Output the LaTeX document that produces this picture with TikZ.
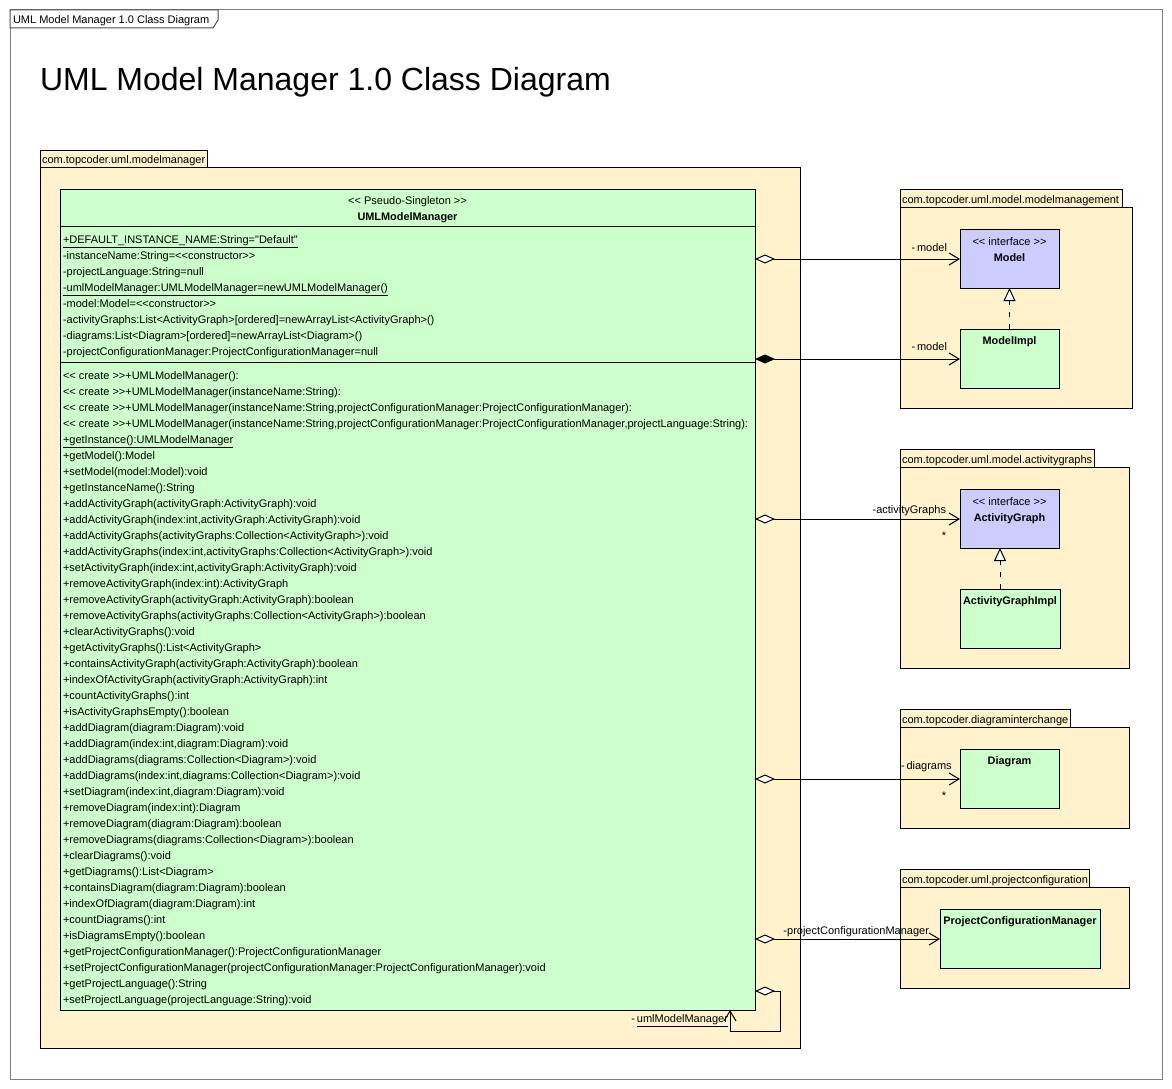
\documentclass[tikz,border=0pt]{standalone}
\usepackage{fontspec}
\setmainfont{Liberation Sans}[Ligatures=TeXOff]
\usetikzlibrary{arrows.meta}
\definecolor{pkg}{HTML}{FFF2CC}
\definecolor{cls}{HTML}{CCFFCC}
\definecolor{ifc}{HTML}{CCCCFF}
\definecolor{frm}{HTML}{808080}
\begin{document}
\begin{tikzpicture}[x=1pt,y=-1pt,line width=1pt,
  every node/.style={inner sep=0pt,outer sep=0pt},
  txt/.style={font=\fontsize{11}{13}\selectfont,text height=8pt,text depth=2.4pt,yshift=-1.8pt},
  bold/.style={txt,font=\fontsize{10.9}{13}\selectfont\bfseries},
  member/.style={txt,anchor=west},
  box/.style={draw,anchor=north west},
  pkgbox/.style={box,fill=pkg},
  clsbox/.style={box,fill=cls},
  ifcbox/.style={box,fill=ifc},
  aggr/.style={{Diamond[fill=white,length=20pt,width=9pt]}-{Straight Barb[length=10pt,width=12pt]}},
  comp/.style={{Diamond[length=20pt,width=9pt]}-{Straight Barb[length=10pt,width=12pt]}},
  real/.style={dash pattern=on 5pt off 7pt,-{Triangle[fill=white,length=13pt,width=12pt]}},
]
\useasboundingbox (0,0) rectangle (1172,1089);
\fill[white] (0,0) rectangle (1172,1089);

% outer frame
\node[box,draw=frm,minimum width=1152pt,minimum height=1069pt] (frame) at (10,10) {};
\draw[fill=white,draw=frm!60!black] (10,10) -- (218,10) -- (218,20) -- (213,28) -- (10,28) -- cycle;
\node[txt,anchor=west] (framelabel) at (13,19) {UML Model Manager 1.0 Class Diagram};
\node[anchor=west,font=\fontsize{32}{36}\selectfont] (title) at (40,82.5) {UML Model Manager 1.0 Class Diagram};

% main package
\node[pkgbox,minimum width=167pt,minimum height=17pt] (p1tab) at (40,150) {};
\node[pkgbox,minimum width=760pt,minimum height=881pt] (p1) at (40,167) {};
\node[member] (p1label) at (42,158.5) {com.topcoder.uml.modelmanager};

% main class
\node[clsbox,minimum width=695pt,minimum height=821pt] (umm) at (60,189) {};
\draw (60,226) -- (755,226);
\draw (60,362) -- (755,362);
\node[txt] (ummst) at (407.5,200) {<< Pseudo-Singleton >>};
\node[bold] (ummname) at (407.5,216) {UMLModelManager};

\foreach \t [count=\i] in {%
 {\underline{+DEFAULT\_INSTANCE\_NAME:String="Default"}},
 {-instanceName:String=<<constructor>>},
 {-projectLanguage:String=null},
 {\underline{-umlModelManager:UMLModelManager=newUMLModelManager()}},
 {-model:Model=<<constructor>>},
 {-activityGraphs:List<ActivityGraph>[ordered]=newArrayList<ActivityGraph>()},
 {-diagrams:List<Diagram>[ordered]=newArrayList<Diagram>()},
 {-projectConfigurationManager:ProjectConfigurationManager=null}}
 \node[member] (at\i) at (63,{223+16*\i}) {\t};

\foreach \t [count=\i] in {%
 {<< create >>+UMLModelManager():},
 {<< create >>+UMLModelManager(instanceName:String):},
 {<< create >>+UMLModelManager(instanceName:String,projectConfigurationManager:ProjectConfigurationManager):},
 {<< create >>+UMLModelManager(instanceName:String,projectConfigurationManager:ProjectConfigurationManager,projectLanguage:String):},
 {\underline{+getInstance():UMLModelManager}},
 {+getModel():Model},
 {+setModel(model:Model):void},
 {+getInstanceName():String},
 {+addActivityGraph(activityGraph:ActivityGraph):void},
 {+addActivityGraph(index:int,activityGraph:ActivityGraph):void},
 {+addActivityGraphs(activityGraphs:Collection<ActivityGraph>):void},
 {+addActivityGraphs(index:int,activityGraphs:Collection<ActivityGraph>):void},
 {+setActivityGraph(index:int,activityGraph:ActivityGraph):void},
 {+removeActivityGraph(index:int):ActivityGraph},
 {+removeActivityGraph(activityGraph:ActivityGraph):boolean},
 {+removeActivityGraphs(activityGraphs:Collection<ActivityGraph>):boolean},
 {+clearActivityGraphs():void},
 {+getActivityGraphs():List<ActivityGraph>},
 {+containsActivityGraph(activityGraph:ActivityGraph):boolean},
 {+indexOfActivityGraph(activityGraph:ActivityGraph):int},
 {+countActivityGraphs():int},
 {+isActivityGraphsEmpty():boolean},
 {+addDiagram(diagram:Diagram):void},
 {+addDiagram(index:int,diagram:Diagram):void},
 {+addDiagrams(diagrams:Collection<Diagram>):void},
 {+addDiagrams(index:int,diagrams:Collection<Diagram>):void},
 {+setDiagram(index:int,diagram:Diagram):void},
 {+removeDiagram(index:int):Diagram},
 {+removeDiagram(diagram:Diagram):boolean},
 {+removeDiagrams(diagrams:Collection<Diagram>):boolean},
 {+clearDiagrams():void},
 {+getDiagrams():List<Diagram>},
 {+containsDiagram(diagram:Diagram):boolean},
 {+indexOfDiagram(diagram:Diagram):int},
 {+countDiagrams():int},
 {+isDiagramsEmpty():boolean},
 {+getProjectConfigurationManager():ProjectConfigurationManager},
 {+setProjectConfigurationManager(projectConfigurationManager:ProjectConfigurationManager):void},
 {+getProjectLanguage():String},
 {+setProjectLanguage(projectLanguage:String):void}}
 \node[member] (op\i) at (63,{359+16*\i}) {\t};

% package modelmanagement
\node[pkgbox,minimum width=222pt,minimum height=18pt] (p2tab) at (900,189) {};
\node[pkgbox,minimum width=232pt,minimum height=201pt] (p2) at (900,207) {};
\node[member] (p2label) at (902,198.5) {com.topcoder.uml.model.modelmanagement};
\node[ifcbox,minimum width=99pt,minimum height=59pt] (model) at (960,229) {};
\node[txt] (modelst) at (1009.5,241) {<< interface >>};
\node[bold] (modelname) at (1009.5,257) {Model};
\node[clsbox,minimum width=99pt,minimum height=59pt] (modelimpl) at (960,329) {};
\node[bold] (modelimplname) at (1009.5,340) {ModelImpl};
\draw[real] (modelimpl.north) -- (model.south);

% package activitygraphs
\node[pkgbox,minimum width=194pt,minimum height=18pt] (p3tab) at (900,449) {};
\node[pkgbox,minimum width=229pt,minimum height=201pt] (p3) at (900,467) {};
\node[member] (p3label) at (902,458.5) {com.topcoder.uml.model.activitygraphs};
\node[ifcbox,minimum width=99pt,minimum height=59pt] (actg) at (960,489) {};
\node[txt] (actgst) at (1009.5,501) {<< interface >>};
\node[bold] (actgname) at (1009.5,517) {ActivityGraph};
\node[clsbox,minimum width=100pt,minimum height=59pt] (actgimpl) at (960,589) {};
\node[bold] (actgimplname) at (1010,600) {ActivityGraphImpl};
\coordinate (r2b) at (1000,589);
\coordinate (r2t) at (1000,548);
\draw[real] (r2b) -- (r2t);

% package diagraminterchange
\node[pkgbox,minimum width=170pt,minimum height=18pt] (p4tab) at (900,709) {};
\node[pkgbox,minimum width=229pt,minimum height=101pt] (p4) at (900,727) {};
\node[member] (p4label) at (902,718.5) {com.topcoder.diagraminterchange};
\node[clsbox,minimum width=99pt,minimum height=59pt] (diag) at (960,749) {};
\node[bold] (diagname) at (1009.5,760) {Diagram};

% package projectconfiguration
\node[pkgbox,minimum width=189pt,minimum height=18pt] (p5tab) at (900,869) {};
\node[pkgbox,minimum width=229pt,minimum height=101pt] (p5) at (900,887) {};
\node[member] (p5label) at (902,878.5) {com.topcoder.uml.projectconfiguration};
\node[clsbox,minimum width=160pt,minimum height=59pt] (pcm) at (940,909) {};
\node[bold] (pcmname) at (1020,920) {ProjectConfigurationManager};

% associations
\coordinate (s1) at (755,259);
\draw[aggr] (s1) -- (s1 -| model.west);
\coordinate (s2) at (755,359);
\draw[comp] (s2) -- (s2 -| modelimpl.west);
\coordinate (s3) at (755,519);
\draw[aggr] (s3) -- (s3 -| actg.west);
\coordinate (s4) at (755,779);
\draw[aggr] (s4) -- (s4 -| diag.west);
\coordinate (s5) at (755,939);
\draw[aggr] (s5) -- (s5 -| pcm.west);
\coordinate (s6) at (755,991);
\coordinate (s6e) at (730,1010);
\draw[aggr] (s6) -- (780,991) -- (780,1031) -- (730,1031) -- (s6e);

% association labels
\node[txt,anchor=east] (l1) at (947,247) {-\,model};
\node[txt,anchor=east] (l2) at (947,346) {-\,model};
\node[txt,anchor=east] (l3) at (946,509) {-activityGraphs};
\node[txt] (m3) at (944,535) {*};
\node[txt,anchor=west] (l4) at (901,765) {-\,diagrams};
\node[txt] (m4) at (944,795) {*};
\node[txt,anchor=east] (l5) at (929,930) {-projectConfigurationManager};
\node[txt,anchor=east] (l6) at (728,1018) {-\,\underline{umlModelManager}};
\end{tikzpicture}
\end{document}
